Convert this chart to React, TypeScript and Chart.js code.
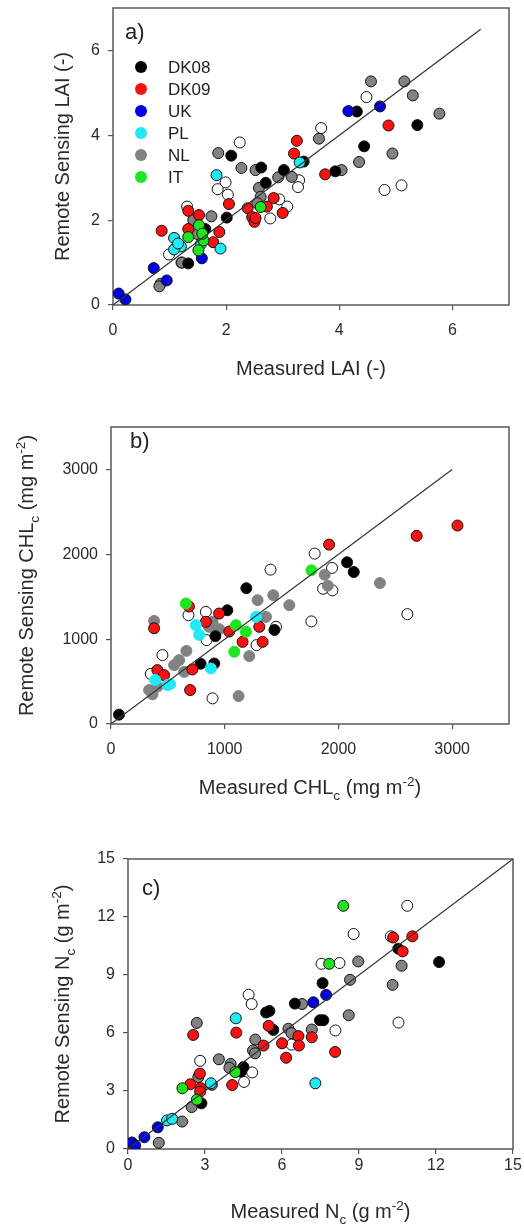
import React, { useEffect, useRef } from "react";
import { Chart, registerables } from "chart.js";

Chart.register(...registerables);

// ---------- DATA: [measured, remote sensing] ----------
// Panel a) LAI (-)
const laiDK08 = [[4.31, 4.56], [4.44, 3.74], [5.38, 4.24], [2.09, 3.52], [2.62, 3.24], [3.02, 3.18], [2.70, 2.88], [2.01, 2.06], [3.37, 3.38], [3.93, 3.15], [1.63, 1.79], [1.33, 0.98]];
const laiDK09 = [[4.87, 4.23], [3.25, 3.87], [3.20, 3.57], [3.75, 3.08], [2.05, 2.38], [2.84, 2.52], [3.00, 2.17], [2.38, 2.28], [2.46, 2.07], [2.50, 1.96], [2.52, 2.05], [0.86, 1.75], [1.33, 2.22], [1.52, 2.12], [1.33, 1.79], [1.88, 1.72], [1.77, 1.48], [2.72, 2.32]];
const laiUK = [[4.16, 4.57], [4.72, 4.68], [0.72, 0.87], [0.95, 0.58], [1.57, 1.10], [0.10, 0.27], [0.22, 0.13]];
const laiPL = [[1.83, 3.06], [3.30, 3.36], [1.90, 1.33], [1.08, 1.58], [1.20, 1.38], [1.08, 1.31], [1.55, 1.43], [1.15, 1.45]];
const laiNL = [[4.56, 5.27], [5.15, 5.27], [5.30, 4.94], [5.77, 4.51], [4.94, 3.57], [4.35, 3.37], [3.64, 3.92], [4.04, 3.18], [1.86, 3.58], [2.27, 3.23], [2.52, 3.18], [2.92, 3.01], [3.16, 3.02], [2.58, 2.76], [2.61, 2.55], [1.74, 2.09], [1.42, 2.00], [1.50, 1.67], [1.22, 1.00], [0.84, 0.50], [0.82, 0.44], [2.55, 2.40]];
const laiIT = [[1.52, 1.88], [1.33, 1.60], [1.60, 1.52], [1.51, 1.29], [2.61, 2.31], [1.58, 1.68]];
const laiOther = [[4.48, 4.90], [3.68, 4.17], [2.24, 3.83], [4.80, 2.71], [5.10, 2.82], [1.99, 2.89], [1.85, 2.73], [2.03, 2.60], [3.29, 2.94], [3.27, 2.78], [3.08, 2.32], [2.78, 2.04], [2.94, 2.49], [1.31, 2.32], [0.99, 1.19], [1.21, 1.00]];

// Panel b) CHLc (mg m-2)
const chlDK08 = [[70, 110], [2076, 1906], [2135, 1791], [1190, 1600], [1023, 1340], [918, 1035], [1437, 1108], [788, 710], [908, 713]];
const chlDK09 = [[3047, 2339], [2688, 2217], [1918, 2114], [951, 1302], [685, 1385], [379, 1128], [834, 1204], [1040, 1090], [1157, 968], [1333, 968], [1304, 1145], [408, 635], [467, 576], [716, 643], [696, 400]];
const chlUK: number[][] = [];
const chlPL = [[746, 1165], [775, 1050], [878, 655], [388, 518], [496, 459], [520, 470], [1275, 1262]];
const chlNL = [[2365, 1661], [1879, 1760], [1906, 1630], [1568, 1400], [1427, 1518], [1289, 1459], [1302, 1244], [1363, 1262], [1216, 800], [1122, 329], [379, 1215], [663, 862], [599, 753], [555, 694], [643, 615], [335, 400], [365, 350], [863, 1145], [951, 1118], [893, 1204], [409, 441]];
const chlIT = [[1762, 1811], [658, 1420], [1099, 1165], [1187, 1086], [1084, 851]];
const chlOther = [[1791, 2008], [1403, 1819], [1944, 1839], [1865, 1594], [1947, 1575], [1762, 1209], [2606, 1295], [681, 1282], [834, 1321], [840, 988], [452, 812], [893, 302], [1280, 930], [1451, 1145], [350, 590]];

// Panel c) Nc (g m-2)
const nDK08 = [[12.12, 9.67], [10.53, 10.36], [7.58, 8.58], [7.48, 6.66], [7.61, 6.66], [6.50, 7.52], [5.38, 7.06], [5.51, 7.14], [5.66, 6.16], [4.50, 4.24], [2.86, 2.36], [4.40, 4.00]];
const nDK09 = [[11.08, 11.00], [10.33, 10.94], [10.70, 10.22], [8.07, 5.02], [7.16, 5.78], [6.64, 5.84], [6.66, 5.35], [6.00, 5.47], [6.16, 4.72], [5.28, 5.35], [5.48, 6.37], [4.22, 6.02], [2.54, 5.90], [4.06, 3.31], [2.80, 3.90], [2.43, 3.35], [2.83, 3.15], [2.81, 2.97], [0.0, 0.05]];
const nUK = [[7.72, 7.97], [7.22, 7.59], [1.16, 1.12], [0.64, 0.61], [0.15, 0.34], [0.28, 0.19]];
const nPL = [[4.20, 6.76], [7.30, 3.40], [1.52, 1.48], [1.72, 1.56], [3.23, 3.40]];
const nNL = [[8.97, 9.70], [8.65, 8.75], [8.60, 6.92], [10.31, 8.49], [10.66, 9.48], [7.16, 6.18], [6.78, 7.50], [6.25, 6.22], [6.37, 5.99], [4.96, 5.66], [4.87, 5.10], [4.95, 4.95], [3.54, 4.64], [4.00, 4.40], [3.27, 3.32], [2.68, 6.52], [2.74, 3.72], [2.48, 2.17], [2.11, 1.42], [1.20, 0.32], [3.95, 4.20]];
const nIT = [[8.39, 12.58], [7.84, 9.58], [2.12, 3.14], [2.68, 2.55], [4.18, 3.98]];
const nOther = [[10.88, 12.58], [8.79, 11.12], [10.24, 11.00], [7.54, 9.58], [8.24, 9.62], [10.54, 6.54], [8.08, 6.13], [4.70, 7.98], [4.82, 7.50], [2.81, 4.56], [4.84, 3.96], [4.52, 3.47], [6.37, 5.40]];

const seriesNames = ["DK08", "DK09", "UK", "PL", "NL", "IT", "other"];
const laiTicks = [0, 2, 4, 6];
const chlTicks = [0, 1000, 2000, 3000];
const nTicks = [0, 3, 6, 9, 12, 15];

// ---------- STYLE ----------
const FONT = "'Liberation Sans', Arial, Helvetica, sans-serif";
const seriesStyle: Record<string, { fill: string; order: number; legend: boolean }> = {
  DK08: { fill: "#000000", order: 5, legend: true },
  DK09: { fill: "#ff1010", order: 4, legend: true },
  UK: { fill: "#0000e6", order: 3, legend: true },
  PL: { fill: "#20eaf5", order: 2, legend: true },
  NL: { fill: "#828282", order: 6, legend: true },
  IT: { fill: "#1ee61e", order: 1, legend: true },
  other: { fill: "#ffffff", order: 7, legend: false },
};

type Seg = { t: string; s?: "sub" | "sup" };

interface PanelCfg {
  top: number;
  height: number;
  area: { l: number; r: number; t: number; b: number };
  xMax: number;
  yMax: number;
  ticks: number[];
  lineMax: number;
  series: number[][][];
  xTitle: Seg[];
  yTitle: Seg[];
  xTitleY: number;
  yTitleX: number;
  tag: string;
  tagX: number;
  tagY: number;
  legend: boolean;
  borderless: string[];
  xTickPad: number;
}

const panels: PanelCfg[] = [
  {
    top: 0, height: 400,
    area: { l: 113, r: 509, t: 8, b: 305 },
    xMax: 7, yMax: 7, ticks: laiTicks, lineMax: 6.5,
    series: [laiDK08, laiDK09, laiUK, laiPL, laiNL, laiIT, laiOther],
    xTitle: [{ t: "Measured LAI (-)" }],
    yTitle: [{ t: "Remote Sensing LAI (-)" }],
    xTitleY: 368, yTitleX: 62,
    tag: "a)", tagX: 125, tagY: 33,
    legend: true, borderless: [], xTickPad: 11,
  },
  {
    top: 400, height: 405,
    area: { l: 111, r: 509, t: 27, b: 324 },
    xMax: 3500, yMax: 3500, ticks: chlTicks, lineMax: 3000,
    series: [chlDK08, chlDK09, chlUK, chlPL, chlNL, chlIT, chlOther],
    xTitle: [{ t: "Measured CHL" }, { t: "c", s: "sub" }, { t: " (mg m" }, { t: "-2", s: "sup" }, { t: ")" }],
    yTitle: [{ t: "Remote Sensing CHL" }, { t: "c", s: "sub" }, { t: " (mg m" }, { t: "-2", s: "sup" }, { t: ")" }],
    xTitleY: 387, yTitleX: 26,
    tag: "b)", tagX: 130, tagY: 42,
    legend: false, borderless: ["NL", "PL", "IT"], xTickPad: 11,
  },
  {
    top: 805, height: 419,
    area: { l: 128, r: 513, t: 54, b: 344 },
    xMax: 15, yMax: 15, ticks: nTicks, lineMax: 15,
    series: [nDK08, nDK09, nUK, nPL, nNL, nIT, nOther],
    xTitle: [{ t: "Measured N" }, { t: "c", s: "sub" }, { t: " (g m" }, { t: "-2", s: "sup" }, { t: ")" }],
    yTitle: [{ t: "Remote Sensing N" }, { t: "c", s: "sub" }, { t: " (g m" }, { t: "-2", s: "sup" }, { t: ")" }],
    xTitleY: 406, yTitleX: 62,
    tag: "c)", tagX: 142, tagY: 84,
    legend: false, borderless: [], xTickPad: 2,
  },
];

function drawRich(ctx: CanvasRenderingContext2D, segs: Seg[], cx: number, cy: number, size: number, rotate: boolean) {
  ctx.save();
  ctx.translate(cx, cy);
  if (rotate) ctx.rotate(-Math.PI / 2);
  const small = size * 0.68;
  let total = 0;
  const parts = segs.map((seg) => {
    const fs = seg.s ? small : size;
    ctx.font = `${fs}px ${FONT}`;
    const w = ctx.measureText(seg.t).width;
    total += w;
    return { seg, fs, w };
  });
  let x = -total / 2;
  ctx.textBaseline = "alphabetic";
  ctx.textAlign = "left";
  ctx.fillStyle = "#2a2a2a";
  for (const p of parts) {
    ctx.font = `${p.fs}px ${FONT}`;
    const dy = p.seg.s === "sub" ? size * 0.3 : p.seg.s === "sup" ? -size * 0.42 : 0;
    ctx.fillText(p.seg.t, x, size * 0.36 + dy);
    x += p.w;
  }
  ctx.restore();
}

const decorPlugin = {
  id: "decor",
  beforeDatasetsDraw(chart: any) {
    const { ctx, chartArea } = chart;
    ctx.save();
    ctx.strokeStyle = "#5a5a5a";
    ctx.lineWidth = 1.5;
    ctx.strokeRect(chartArea.left, chartArea.top, chartArea.right - chartArea.left, chartArea.bottom - chartArea.top);
    ctx.restore();
  },
  afterDraw(chart: any) {
    const cfg: PanelCfg = chart.options.plugins.decor.cfg;
    const ctx: CanvasRenderingContext2D = chart.ctx;
    const ca = chart.chartArea;
    drawRich(ctx, cfg.xTitle, (ca.left + ca.right) / 2, cfg.xTitleY, 20, false);
    drawRich(ctx, cfg.yTitle, cfg.yTitleX, (ca.top + ca.bottom) / 2, 20, true);
    ctx.save();
    ctx.fillStyle = "#222";
    ctx.font = `22px ${FONT}`;
    ctx.textBaseline = "middle";
    ctx.textAlign = "left";
    ctx.fillText(cfg.tag, cfg.tagX, cfg.tagY);
    if (cfg.legend) {
      let row = 0;
      chart.data.datasets.forEach((ds: any) => {
        if (!ds.inLegend) return;
        const y = 67 + row * 22;
        ctx.beginPath();
        ctx.arc(141, y, 6, 0, Math.PI * 2);
        ctx.fillStyle = ds.backgroundColor;
        ctx.fill();
        ctx.fillStyle = "#222";
        ctx.font = `17px ${FONT}`;
        ctx.fillText(ds.label, 168, y + 1);
        row++;
      });
    }
    ctx.restore();
  },
};

function buildConfig(cfg: PanelCfg): any {
  const W = 524;
  const AXH = 30;
  const datasets: any[] = [
    {
      type: "line",
      label: "1:1",
      data: [{ x: 0, y: 0 }, { x: cfg.lineMax, y: cfg.lineMax }],
      borderColor: "#333333",
      borderWidth: 1.2,
      pointRadius: 0,
      fill: false,
      order: 0,
      inLegend: false,
    },
  ];
  seriesNames.forEach((name, i) => {
    const st = seriesStyle[name];
    const noBorder = cfg.borderless.includes(name);
    datasets.push({
      type: "scatter",
      label: name,
      data: cfg.series[i].map((p) => ({ x: p[0], y: p[1] })),
      backgroundColor: st.fill,
      borderColor: noBorder ? st.fill : "#111111",
      borderWidth: 1,
      pointRadius: 5.5,
      pointHoverRadius: 5.5,
      order: st.order,
      inLegend: st.legend,
    });
  });
  const tickFont = { family: FONT, size: 16 };
  const fmt = (v: any) => String(v);
  const keepTicks = (scale: any) => {
    scale.ticks = cfg.ticks.map((v) => ({ value: v }));
  };
  return {
    type: "scatter",
    data: { datasets },
    options: {
      animation: false,
      responsive: false,
      maintainAspectRatio: false,
      devicePixelRatio: 1,
      layout: { padding: { left: 0, top: cfg.area.t, right: W - cfg.area.r, bottom: cfg.height - cfg.area.b - AXH } },
      plugins: { legend: { display: false }, tooltip: { enabled: false }, decor: { cfg } },
      scales: {
        x: {
          type: "linear",
          position: "bottom",
          min: 0,
          max: cfg.xMax,
          afterBuildTicks: keepTicks,
          afterFit: (s: any) => { s.height = AXH; s.paddingLeft = 0; s.paddingRight = 0; },
          ticks: { autoSkip: false, maxRotation: 0, padding: cfg.xTickPad, color: "#2a2a2a", font: tickFont, callback: fmt },
          grid: { display: true, drawOnChartArea: false, drawTicks: true, tickLength: 5, color: "#555", lineWidth: 1.2 },
          border: { display: false },
          title: { display: false },
        },
        y: {
          type: "linear",
          position: "left",
          min: 0,
          max: cfg.yMax,
          afterBuildTicks: keepTicks,
          afterFit: (s: any) => { s.width = cfg.area.l; s.paddingTop = 0; s.paddingBottom = 0; },
          ticks: { autoSkip: false, padding: 8, color: "#2a2a2a", font: tickFont, callback: fmt },
          grid: { display: true, drawOnChartArea: false, drawTicks: true, tickLength: 5, color: "#555", lineWidth: 1.2 },
          border: { display: false },
          title: { display: false },
        },
      },
    },
    plugins: [decorPlugin],
  };
}

function Panel({ cfg }: { cfg: PanelCfg }) {
  const ref = useRef<HTMLCanvasElement>(null);
  useEffect(() => {
    const chart = new Chart(ref.current as HTMLCanvasElement, buildConfig(cfg));
    return () => chart.destroy();
  }, [cfg]);
  return (
    <canvas
      ref={ref}
      width={524}
      height={cfg.height}
      style={{ position: "absolute", left: 0, top: cfg.top, width: 524, height: cfg.height, display: "block" }}
    />
  );
}

export default function App() {
  return (
    <div style={{ position: "absolute", left: 0, top: 0, width: 524, height: 1224, background: "#ffffff", overflow: "hidden" }}>
      {panels.map((p, i) => (
        <Panel key={i} cfg={p} />
      ))}
    </div>
  );
}
